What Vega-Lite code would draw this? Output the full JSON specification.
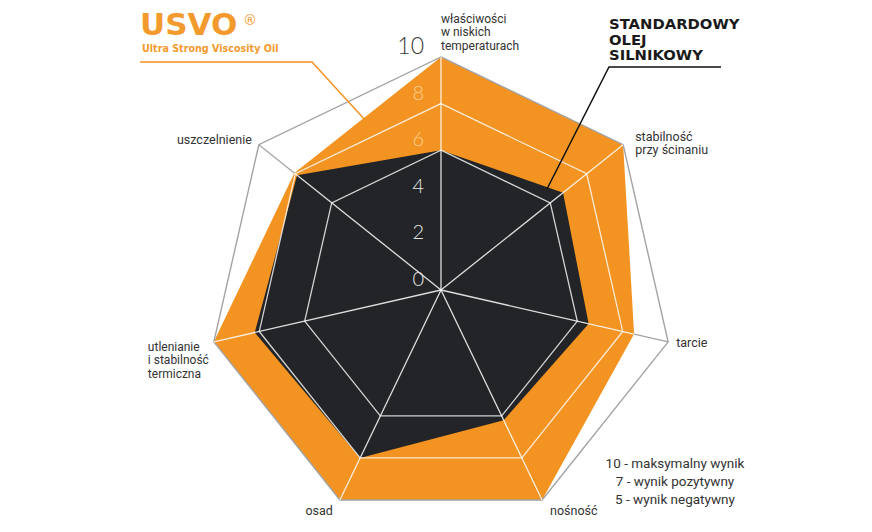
{
  "$schema": "https://vega.github.io/schema/vega-lite/v6.json",
  "width": 872,
  "height": 532,
  "padding": 0,
  "autosize": {"type": "none"},
  "background": "#ffffff",
  "config": {"view": {"stroke": null}},
  "datasets": {
    "axes": [
      {"k": 0, "axis": "właściwości w niskich temperaturach", "label": ["właściwości", "w niskich", "temperaturach"], "usvo": 10, "std": 6},
      {"k": 1, "axis": "stabilność przy ścinaniu", "label": ["stabilność", "przy ścinaniu"], "usvo": 10, "std": 6.7},
      {"k": 2, "axis": "tarcie", "label": ["tarcie"], "usvo": 8.5, "std": 6.5},
      {"k": 3, "axis": "nośność", "label": ["nośność"], "usvo": 10, "std": 6.2},
      {"k": 4, "axis": "osad", "label": ["osad"], "usvo": 10, "std": 8},
      {"k": 5, "axis": "utlenianie i stabilność termiczna", "label": ["utlenianie", "i stabilność", "termiczna"], "usvo": 10, "std": 8.2},
      {"k": 6, "axis": "uszczelnienie", "label": ["uszczelnienie"], "usvo": 8.05, "std": 7.9}
    ],
    "grid": [
      {"level": 6, "k": 0}, {"level": 6, "k": 1}, {"level": 6, "k": 2}, {"level": 6, "k": 3}, {"level": 6, "k": 4}, {"level": 6, "k": 5}, {"level": 6, "k": 6},
      {"level": 8, "k": 0}, {"level": 8, "k": 1}, {"level": 8, "k": 2}, {"level": 8, "k": 3}, {"level": 8, "k": 4}, {"level": 8, "k": 5}, {"level": 8, "k": 6},
      {"level": 10, "k": 0}, {"level": 10, "k": 1}, {"level": 10, "k": 2}, {"level": 10, "k": 3}, {"level": 10, "k": 4}, {"level": 10, "k": 5}, {"level": 10, "k": 6}
    ],
    "ticks": [{"tick": 0}, {"tick": 2}, {"tick": 4}, {"tick": 6}, {"tick": 8}, {"tick": 10}],
    "leaders": [
      {"series": "USVO", "p": 0, "lx": -12.918, "ly": 9.785},
      {"series": "USVO", "p": 1, "lx": -5.536, "ly": 9.785},
      {"series": "USVO", "p": 2, "lx": -3.219, "ly": 7.253},
      {"series": "STANDARDOWY", "p": 0, "lx": 12.017, "ly": 9.571},
      {"series": "STANDARDOWY", "p": 1, "lx": 7.21, "ly": 9.571},
      {"series": "STANDARDOWY", "p": 2, "lx": 4.549, "ly": 4.335}
    ]
  },
  "layer": [
    {
      "data": {"name": "axes"},
      "transform": [
        {"calculate": "datum.k*2*PI/7", "as": "t"},
        {"calculate": "0", "as": "cx"},
        {"calculate": "10*sin(datum.t)", "as": "ex"},
        {"calculate": "10*cos(datum.t)", "as": "ey"}
      ],
      "mark": {"type": "rule", "color": "#a3a3a3", "strokeWidth": 1.2},
      "encoding": {
        "x": {"field": "cx", "type": "quantitative", "scale": {"domain": [-18.927, 18.498], "nice": false, "zero": false}, "axis": null},
        "y": {"field": "cx", "type": "quantitative", "scale": {"domain": [-10.386, 12.446], "nice": false, "zero": false}, "axis": null},
        "x2": {"field": "ex"},
        "y2": {"field": "ey"}
      }
    },
    {
      "data": {"name": "axes"},
      "transform": [
        {"calculate": "datum.k*2*PI/7", "as": "t"},
        {"calculate": "datum.usvo*sin(datum.t)", "as": "x"},
        {"calculate": "datum.usvo*cos(datum.t)", "as": "y"}
      ],
      "mark": {"type": "line", "interpolate": "linear-closed", "filled": true, "color": "#F39322", "strokeWidth": 0},
      "encoding": {
        "x": {"field": "x", "type": "quantitative", "scale": {"domain": [-18.927, 18.498], "nice": false, "zero": false}, "axis": null},
        "y": {"field": "y", "type": "quantitative", "scale": {"domain": [-10.386, 12.446], "nice": false, "zero": false}, "axis": null},
        "order": {"field": "k", "type": "quantitative"}
      }
    },
    {
      "data": {"name": "axes"},
      "transform": [
        {"calculate": "datum.k*2*PI/7", "as": "t"},
        {"calculate": "datum.std*sin(datum.t)", "as": "x"},
        {"calculate": "datum.std*cos(datum.t)", "as": "y"}
      ],
      "mark": {"type": "line", "interpolate": "linear-closed", "filled": true, "color": "#222427", "strokeWidth": 0},
      "encoding": {
        "x": {"field": "x", "type": "quantitative", "scale": {"domain": [-18.927, 18.498], "nice": false, "zero": false}, "axis": null},
        "y": {"field": "y", "type": "quantitative", "scale": {"domain": [-10.386, 12.446], "nice": false, "zero": false}, "axis": null},
        "order": {"field": "k", "type": "quantitative"}
      }
    },
    {
      "data": {"name": "grid"},
      "transform": [
        {"filter": "datum.level < 10"},
        {"calculate": "datum.k*2*PI/7", "as": "t"},
        {"calculate": "datum.level*sin(datum.t)", "as": "x"},
        {"calculate": "datum.level*cos(datum.t)", "as": "y"}
      ],
      "mark": {"type": "line", "interpolate": "linear-closed", "color": "#ffffff", "opacity": 0.8, "strokeWidth": 1.3},
      "encoding": {
        "x": {"field": "x", "type": "quantitative", "scale": {"domain": [-18.927, 18.498], "nice": false, "zero": false}, "axis": null},
        "y": {"field": "y", "type": "quantitative", "scale": {"domain": [-10.386, 12.446], "nice": false, "zero": false}, "axis": null},
        "order": {"field": "k", "type": "quantitative"},
        "detail": {"field": "level", "type": "nominal"}
      }
    },
    {
      "data": {"name": "grid"},
      "transform": [
        {"filter": "datum.level == 10"},
        {"calculate": "datum.k*2*PI/7", "as": "t"},
        {"calculate": "datum.level*sin(datum.t)", "as": "x"},
        {"calculate": "datum.level*cos(datum.t)", "as": "y"}
      ],
      "mark": {"type": "line", "interpolate": "linear-closed", "color": "#a3a3a3", "strokeWidth": 1.4},
      "encoding": {
        "x": {"field": "x", "type": "quantitative", "scale": {"domain": [-18.927, 18.498], "nice": false, "zero": false}, "axis": null},
        "y": {"field": "y", "type": "quantitative", "scale": {"domain": [-10.386, 12.446], "nice": false, "zero": false}, "axis": null},
        "order": {"field": "k", "type": "quantitative"}
      }
    },
    {
      "data": {"name": "axes"},
      "transform": [
        {"calculate": "datum.k*2*PI/7", "as": "t"},
        {"calculate": "0", "as": "cx"},
        {"calculate": "datum.usvo*sin(datum.t)", "as": "ex"},
        {"calculate": "datum.usvo*cos(datum.t)", "as": "ey"}
      ],
      "mark": {"type": "rule", "color": "#ffffff", "opacity": 0.85, "strokeWidth": 1.3},
      "encoding": {
        "x": {"field": "cx", "type": "quantitative", "scale": {"domain": [-18.927, 18.498], "nice": false, "zero": false}, "axis": null},
        "y": {"field": "cx", "type": "quantitative", "scale": {"domain": [-10.386, 12.446], "nice": false, "zero": false}, "axis": null},
        "x2": {"field": "ex"},
        "y2": {"field": "ey"}
      }
    },
    {
      "data": {"name": "ticks"},
      "transform": [{"calculate": "0", "as": "cx"}],
      "mark": {"type": "text", "align": "right", "baseline": "middle", "dx": -17, "dy": -10, "font": "Lato", "fontWeight": 300},
      "encoding": {
        "x": {"field": "cx", "type": "quantitative", "scale": {"domain": [-18.927, 18.498], "nice": false, "zero": false}, "axis": null},
        "y": {"field": "tick", "type": "quantitative", "scale": {"domain": [-10.386, 12.446], "nice": false, "zero": false}, "axis": null},
        "text": {"field": "tick", "type": "quantitative"},
        "size": {"condition": {"test": "datum.tick == 10", "value": 23}, "value": 20},
        "color": {"condition": [{"test": "datum.tick == 10", "value": "#3a3a3a"}, {"test": "datum.tick >= 6", "value": "#fbcf92"}], "value": "#e4e4e4"}
      }
    },
    {
      "data": {"name": "axes"},
      "transform": [
        {"filter": "datum.k == 0"},
        {"calculate": "datum.k*2*PI/7", "as": "t"},
        {"calculate": "10*sin(datum.t)", "as": "x"},
        {"calculate": "10*cos(datum.t)", "as": "y"}
      ],
      "mark": {"type": "text", "align": "left", "baseline": "alphabetic", "dx": 0, "dy": -34, "lineHeight": 13.5, "font": "Roboto", "fontSize": 12, "color": "#333333"},
      "encoding": {
        "x": {"field": "x", "type": "quantitative", "scale": {"domain": [-18.927, 18.498], "nice": false, "zero": false}, "axis": null},
        "y": {"field": "y", "type": "quantitative", "scale": {"domain": [-10.386, 12.446], "nice": false, "zero": false}, "axis": null},
        "text": {"field": "label", "type": "nominal"}
      }
    },
    {
      "data": {"name": "axes"},
      "transform": [
        {"filter": "datum.k == 1"},
        {"calculate": "datum.k*2*PI/7", "as": "t"},
        {"calculate": "10*sin(datum.t)", "as": "x"},
        {"calculate": "10*cos(datum.t)", "as": "y"}
      ],
      "mark": {"type": "text", "align": "left", "baseline": "alphabetic", "dx": 12, "dy": -4, "lineHeight": 13.5, "font": "Roboto", "fontSize": 12.5, "color": "#333333"},
      "encoding": {
        "x": {"field": "x", "type": "quantitative", "scale": {"domain": [-18.927, 18.498], "nice": false, "zero": false}, "axis": null},
        "y": {"field": "y", "type": "quantitative", "scale": {"domain": [-10.386, 12.446], "nice": false, "zero": false}, "axis": null},
        "text": {"field": "label", "type": "nominal"}
      }
    },
    {
      "data": {"name": "axes"},
      "transform": [
        {"filter": "datum.k == 2"},
        {"calculate": "datum.k*2*PI/7", "as": "t"},
        {"calculate": "10*sin(datum.t)", "as": "x"},
        {"calculate": "10*cos(datum.t)", "as": "y"}
      ],
      "mark": {"type": "text", "align": "left", "baseline": "alphabetic", "dx": 8, "dy": 5, "font": "Roboto", "fontSize": 12.5, "color": "#333333"},
      "encoding": {
        "x": {"field": "x", "type": "quantitative", "scale": {"domain": [-18.927, 18.498], "nice": false, "zero": false}, "axis": null},
        "y": {"field": "y", "type": "quantitative", "scale": {"domain": [-10.386, 12.446], "nice": false, "zero": false}, "axis": null},
        "text": {"field": "label", "type": "nominal"}
      }
    },
    {
      "data": {"name": "axes"},
      "transform": [
        {"filter": "datum.k == 3"},
        {"calculate": "datum.k*2*PI/7", "as": "t"},
        {"calculate": "10*sin(datum.t)", "as": "x"},
        {"calculate": "10*cos(datum.t)", "as": "y"}
      ],
      "mark": {"type": "text", "align": "left", "baseline": "alphabetic", "dx": 8, "dy": 15, "font": "Roboto", "fontSize": 12.5, "color": "#333333"},
      "encoding": {
        "x": {"field": "x", "type": "quantitative", "scale": {"domain": [-18.927, 18.498], "nice": false, "zero": false}, "axis": null},
        "y": {"field": "y", "type": "quantitative", "scale": {"domain": [-10.386, 12.446], "nice": false, "zero": false}, "axis": null},
        "text": {"field": "label", "type": "nominal"}
      }
    },
    {
      "data": {"name": "axes"},
      "transform": [
        {"filter": "datum.k == 4"},
        {"calculate": "datum.k*2*PI/7", "as": "t"},
        {"calculate": "10*sin(datum.t)", "as": "x"},
        {"calculate": "10*cos(datum.t)", "as": "y"}
      ],
      "mark": {"type": "text", "align": "right", "baseline": "alphabetic", "dx": -7, "dy": 15, "font": "Roboto", "fontSize": 12.5, "color": "#333333"},
      "encoding": {
        "x": {"field": "x", "type": "quantitative", "scale": {"domain": [-18.927, 18.498], "nice": false, "zero": false}, "axis": null},
        "y": {"field": "y", "type": "quantitative", "scale": {"domain": [-10.386, 12.446], "nice": false, "zero": false}, "axis": null},
        "text": {"field": "label", "type": "nominal"}
      }
    },
    {
      "data": {"name": "axes"},
      "transform": [
        {"filter": "datum.k == 5"},
        {"calculate": "datum.k*2*PI/7", "as": "t"},
        {"calculate": "10*sin(datum.t)", "as": "x"},
        {"calculate": "10*cos(datum.t)", "as": "y"}
      ],
      "mark": {"type": "text", "align": "left", "baseline": "alphabetic", "dx": -66, "dy": 9, "lineHeight": 13.5, "font": "Roboto", "fontSize": 12, "color": "#333333"},
      "encoding": {
        "x": {"field": "x", "type": "quantitative", "scale": {"domain": [-18.927, 18.498], "nice": false, "zero": false}, "axis": null},
        "y": {"field": "y", "type": "quantitative", "scale": {"domain": [-10.386, 12.446], "nice": false, "zero": false}, "axis": null},
        "text": {"field": "label", "type": "nominal"}
      }
    },
    {
      "data": {"name": "axes"},
      "transform": [
        {"filter": "datum.k == 6"},
        {"calculate": "datum.k*2*PI/7", "as": "t"},
        {"calculate": "10*sin(datum.t)", "as": "x"},
        {"calculate": "10*cos(datum.t)", "as": "y"}
      ],
      "mark": {"type": "text", "align": "right", "baseline": "alphabetic", "dx": -7, "dy": -1, "font": "Roboto", "fontSize": 12.5, "color": "#333333"},
      "encoding": {
        "x": {"field": "x", "type": "quantitative", "scale": {"domain": [-18.927, 18.498], "nice": false, "zero": false}, "axis": null},
        "y": {"field": "y", "type": "quantitative", "scale": {"domain": [-10.386, 12.446], "nice": false, "zero": false}, "axis": null},
        "text": {"field": "label", "type": "nominal"}
      }
    },
    {
      "data": {"name": "leaders"},
      "mark": {"type": "line", "strokeWidth": 1.5},
      "encoding": {
        "x": {"field": "lx", "type": "quantitative", "scale": {"domain": [-18.927, 18.498], "nice": false, "zero": false}, "axis": null},
        "y": {"field": "ly", "type": "quantitative", "scale": {"domain": [-10.386, 12.446], "nice": false, "zero": false}, "axis": null},
        "order": {"field": "p", "type": "quantitative"},
        "color": {"field": "series", "type": "nominal", "scale": {"domain": ["USVO", "STANDARDOWY"], "range": ["#F39322", "#111111"]}, "legend": null}
      }
    },
    {
      "data": {"values": [{"t": "USVO"}]},
      "mark": {"type": "text", "text": "USVO", "align": "left", "baseline": "alphabetic", "font": "DejaVu Sans", "fontWeight": "bold", "fontSize": 31, "color": "#F39A2E"},
      "encoding": {
        "x": {"datum": -12.918, "type": "quantitative", "scale": {"domain": [-18.927, 18.498], "nice": false, "zero": false}, "axis": null},
        "y": {"datum": 10.944, "type": "quantitative", "scale": {"domain": [-10.386, 12.446], "nice": false, "zero": false}, "axis": null}
      }
    },
    {
      "data": {"values": [{"t": "®"}]},
      "mark": {"type": "text", "text": "®", "align": "center", "baseline": "middle", "font": "DejaVu Sans", "fontSize": 14, "color": "#F39A2E"},
      "encoding": {
        "x": {"datum": -8.2, "type": "quantitative", "scale": {"domain": [-18.927, 18.498], "nice": false, "zero": false}, "axis": null},
        "y": {"datum": 11.545, "type": "quantitative", "scale": {"domain": [-10.386, 12.446], "nice": false, "zero": false}, "axis": null}
      }
    },
    {
      "data": {"values": [{"t": "sub"}]},
      "mark": {"type": "text", "text": "Ultra Strong Viscosity Oil", "align": "left", "baseline": "middle", "font": "DejaVu Sans", "fontWeight": "bold", "fontSize": 9.6, "color": "#F39A2E"},
      "encoding": {
        "x": {"datum": -12.833, "type": "quantitative", "scale": {"domain": [-18.927, 18.498], "nice": false, "zero": false}, "axis": null},
        "y": {"datum": 10.343, "type": "quantitative", "scale": {"domain": [-10.386, 12.446], "nice": false, "zero": false}, "axis": null}
      }
    },
    {
      "data": {"values": [{"t": "std"}]},
      "mark": {"type": "text", "text": ["STANDARDOWY", "OLEJ", "SILNIKOWY"], "align": "left", "baseline": "alphabetic", "lineHeight": 15.5, "font": "DejaVu Sans", "fontWeight": "bold", "fontSize": 14.8, "color": "#1a1a1a"},
      "encoding": {
        "x": {"datum": 7.21, "type": "quantitative", "scale": {"domain": [-18.927, 18.498], "nice": false, "zero": false}, "axis": null},
        "y": {"datum": 11.2, "type": "quantitative", "scale": {"domain": [-10.386, 12.446], "nice": false, "zero": false}, "axis": null}
      }
    },
    {
      "data": {"values": [{"t": "legend"}]},
      "mark": {"type": "text", "text": ["10 - maksymalny wynik", "7 - wynik pozytywny", "5 - wynik negatywny"], "align": "center", "baseline": "middle", "lineHeight": 18, "font": "Roboto", "fontSize": 13.5, "color": "#333333"},
      "encoding": {
        "x": {"datum": 10.043, "type": "quantitative", "scale": {"domain": [-18.927, 18.498], "nice": false, "zero": false}, "axis": null},
        "y": {"datum": -7.468, "type": "quantitative", "scale": {"domain": [-10.386, 12.446], "nice": false, "zero": false}, "axis": null}
      }
    }
  ]
}
